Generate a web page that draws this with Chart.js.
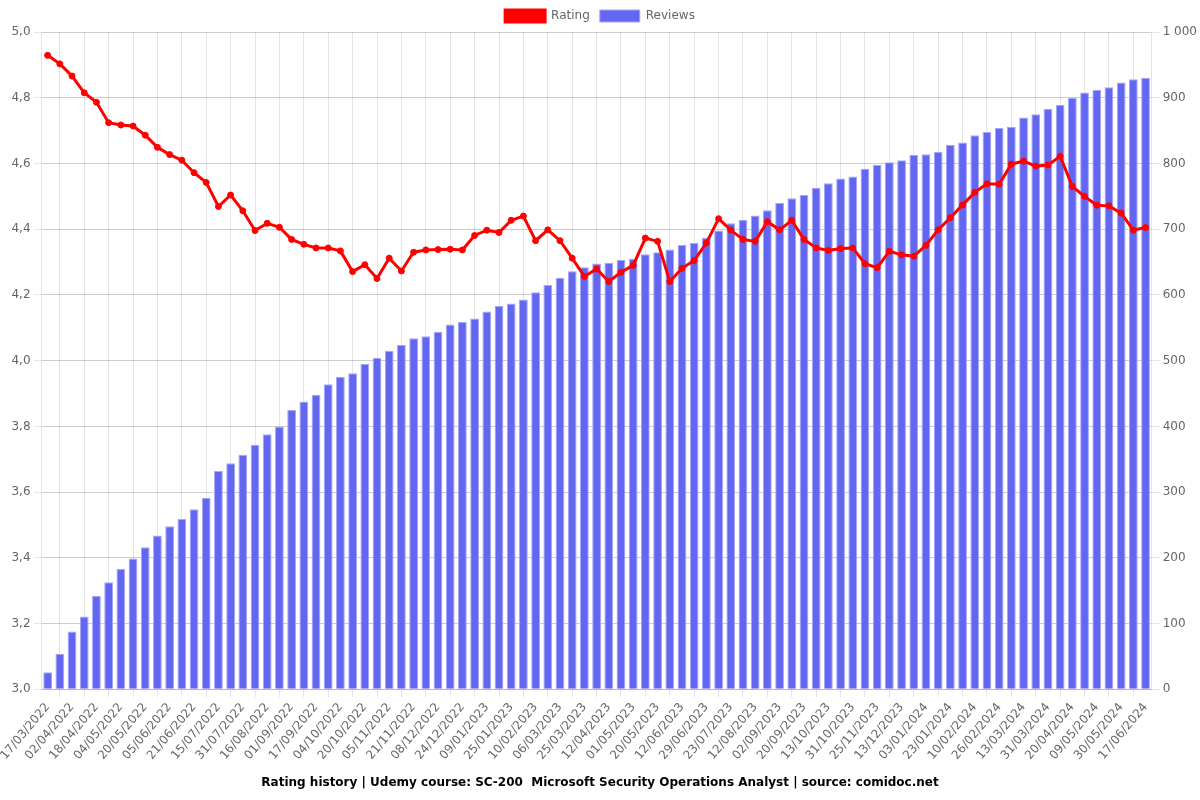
<!DOCTYPE html>
<html>
<head>
<meta charset="utf-8">
<script src="https://cdn.jsdelivr.net/npm/chart.js@4"></script>
<style>
html,body{margin:0;padding:0;background:#fff;}
#wrap{width:1200px;height:800px;}
</style>
</head>
<body>
<div id="wrap"><canvas id="c" width="1200" height="800"></canvas></div>
<script>
const categories = [
"17/03/2022","25/03/2022","02/04/2022","10/04/2022","18/04/2022","26/04/2022","04/05/2022","12/05/2022","20/05/2022","28/05/2022",
"05/06/2022","13/06/2022","21/06/2022","03/07/2022","15/07/2022","23/07/2022","31/07/2022","08/08/2022","16/08/2022","24/08/2022",
"01/09/2022","09/09/2022","17/09/2022","26/09/2022","04/10/2022","12/10/2022","20/10/2022","28/10/2022","05/11/2022","13/11/2022",
"21/11/2022","29/11/2022","08/12/2022","16/12/2022","24/12/2022","01/01/2023","09/01/2023","17/01/2023","25/01/2023","02/02/2023",
"10/02/2023","22/02/2023","06/03/2023","15/03/2023","25/03/2023","03/04/2023","12/04/2023","21/04/2023","01/05/2023","10/05/2023",
"20/05/2023","31/05/2023","12/06/2023","21/06/2023","29/06/2023","11/07/2023","23/07/2023","02/08/2023","12/08/2023","23/08/2023",
"02/09/2023","11/09/2023","20/09/2023","01/10/2023","13/10/2023","22/10/2023","31/10/2023","13/11/2023","25/11/2023","04/12/2023",
"13/12/2023","23/12/2023","03/01/2024","13/01/2024","23/01/2024","01/02/2024","10/02/2024","18/02/2024","26/02/2024","05/03/2024",
"13/03/2024","22/03/2024","31/03/2024","10/04/2024","20/04/2024","29/04/2024","09/05/2024","20/05/2024","30/05/2024","08/06/2024",
"17/06/2024"
];

const ratingValues = [
4.929,4.903,4.866,4.815,4.786,4.724,4.717,4.714,4.686,4.649,
4.627,4.610,4.572,4.542,4.469,4.504,4.456,4.396,4.418,4.406,
4.369,4.354,4.343,4.343,4.334,4.271,4.292,4.250,4.312,4.273,
4.330,4.337,4.338,4.339,4.337,4.381,4.397,4.390,4.427,4.440,
4.365,4.398,4.365,4.312,4.256,4.279,4.241,4.269,4.290,4.373,
4.363,4.241,4.281,4.305,4.358,4.432,4.397,4.369,4.363,4.423,
4.398,4.427,4.369,4.343,4.335,4.341,4.343,4.295,4.283,4.333,
4.322,4.318,4.351,4.398,4.435,4.474,4.512,4.538,4.537,4.598,
4.607,4.592,4.595,4.622,4.530,4.500,4.473,4.471,4.449,4.397,
4.405
];

const reviewValues = [
26,54,88,111,142,163,183,199,216,234,
248,259,274,291,332,344,357,372,388,400,
425,438,448,464,475,481,495,504,515,524,
534,537,544,555,559,564,575,583,587,593,
604,615,626,636,642,648,649,653,655,662,
665,669,676,679,687,698,709,714,721,729,
740,747,752,763,770,777,780,792,798,802,
805,813,814,818,828,832,843,848,854,856,
870,875,883,889,900,908,912,916,923,928,
930
];

const titleText = "Rating history | Udemy course: SC-200  Microsoft Security Operations Analyst | source: comidoc.net";

Chart.defaults.font.family = "'DejaVu Sans', sans-serif";
Chart.defaults.font.size = 12;
Chart.defaults.color = '#666';

new Chart(document.getElementById('c'), {
  type: 'bar',
  data: {
    labels: categories,
    datasets: [
      {
        type: 'line',
        label: 'Rating',
        data: ratingValues,
        yAxisID: 'y',
        borderColor: '#ff0000',
        backgroundColor: '#ff0000',
        borderWidth: 3,
        pointRadius: 3,
        pointBorderWidth: 1,
        pointBackgroundColor: '#ff0000',
        pointBorderColor: '#ff0000',
        tension: 0
      },
      {
        type: 'bar',
        label: 'Reviews',
        data: reviewValues,
        yAxisID: 'y1',
        backgroundColor: '#6366f1',
        borderColor: '#a5a7f7',
        borderWidth: 1
      }
    ]
  },
  options: {
    responsive: false,
    animation: false,
    locale: 'fr-FR',
    plugins: {
      legend: { position: 'top' },
      title: {
        display: true,
        position: 'bottom',
        text: titleText,
        color: '#000',
        font: { size: 12, weight: 'bold' }
      },
      tooltip: { enabled: false }
    },
    scales: {
      x: {
        offset: true,
        grid: { offset: true }
      },
      y: {
        type: 'linear',
        position: 'left',
        min: 3,
        max: 5,
        ticks: { stepSize: 0.2 }
      },
      y1: {
        type: 'linear',
        position: 'right',
        min: 0,
        max: 1000,
        ticks: {
          stepSize: 100,
          callback: function (v) {
            return Number(v).toLocaleString('fr-FR').replace(/[\u202f\u00a0]/g, '\u00a0');
          }
        }
      }
    }
  }
});
</script>
</body>
</html>
